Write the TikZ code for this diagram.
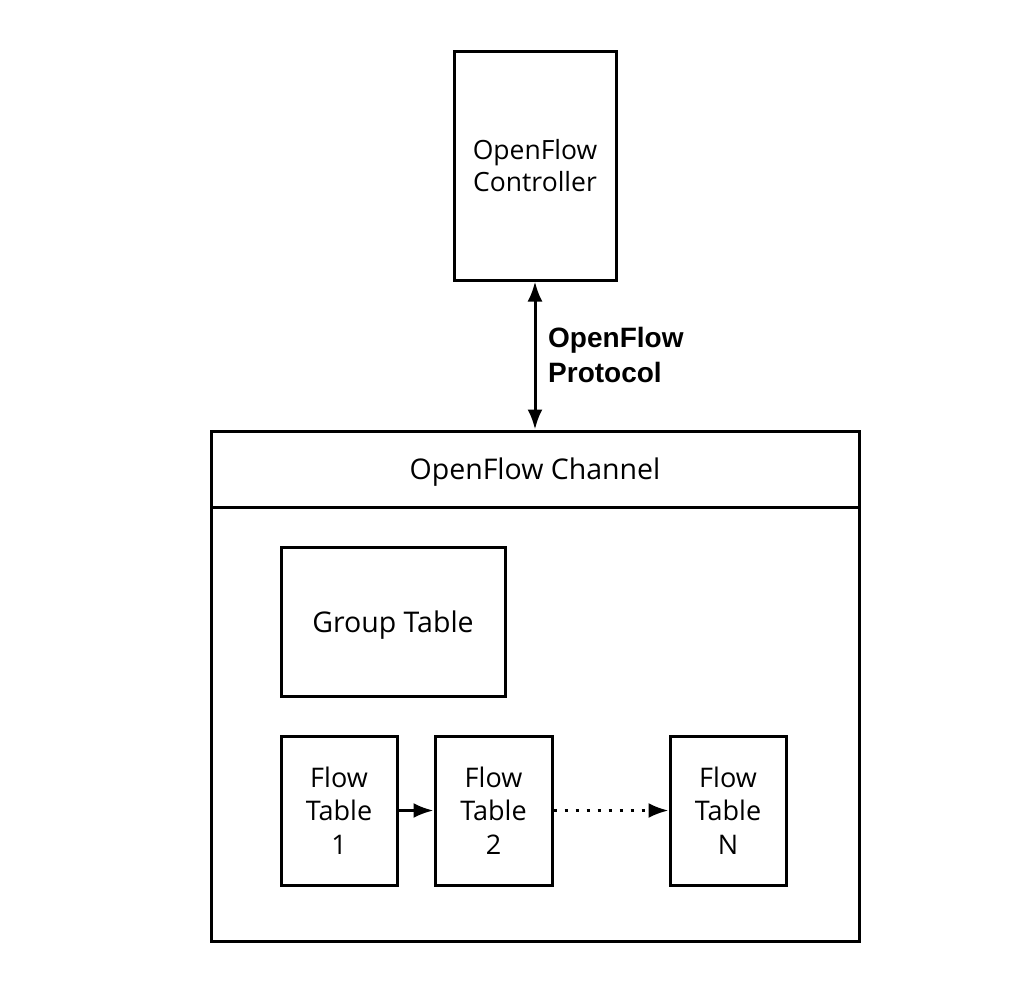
\documentclass[tikz,border=0pt]{standalone}
\usepackage{fontspec}
\setmainfont{Open Sans}
\newfontfamily\protofont{Liberation Sans}
\usetikzlibrary{arrows.meta}
\tikzset{
  box/.style={draw=black, line width=3pt, align=center, inner sep=0pt,
    font=\fontsize{27}{33.5}\selectfont},
  bigtext/.style={font=\fontsize{28.5}{34}\selectfont, text depth=0pt},
  link/.style={line width=3pt, -{Latex[length=20pt,width=15pt]}},
  biarrow/.style={line width=3pt, {Latex[length=20pt,width=15pt]}-{Latex[length=20pt,width=15pt]}}
}

\begin{document}
\begin{tikzpicture}[x=1pt,y=-1pt]
  \useasboundingbox (0,0) rectangle (1033,994);

  %# CONTROLLER
  \node[box, minimum width=162pt, minimum height=229pt, font=\fontsize{26.5}{32}\selectfont] (ctrl) at (535,165.5) {OpenFlow\hspace{10pt}\\Controller\hspace{10pt}};

  %# SWITCH
  \node[box, minimum width=648pt, minimum height=510pt] (switch) at (535,686) {};
  \node[box, bigtext, minimum width=648pt, minimum height=76pt] (chan) at (535,469) {OpenFlow Channel};

  %# PROTOCOL
  \draw[biarrow] (ctrl.south) -- (chan.north);
  \node[anchor=west, align=left, inner sep=0pt, font=\protofont\bfseries\fontsize{28}{35}\selectfont] (proto) at (548,355) {OpenFlow\\Protocol};

  %# TABLES
  \node[box, bigtext, minimum width=224pt, minimum height=149pt] (group) at (393,621.5) {Group Table};
  \node[box, minimum width=116pt, minimum height=149pt] (flow1) at (339,810.5) {Flow\\Table\\1};
  \node[box, minimum width=117pt, minimum height=149pt] (flow2) at (493.5,810.5) {Flow\\Table\\2};
  \node[box, minimum width=116pt, minimum height=149pt] (flowN) at (728,810.5) {Flow\\Table\\N};

  \draw[link] (flow1) -- (flow2);
  \draw[link, dash pattern=on 3pt off 8pt] (flow2) -- (flowN);
\end{tikzpicture}
\end{document}
